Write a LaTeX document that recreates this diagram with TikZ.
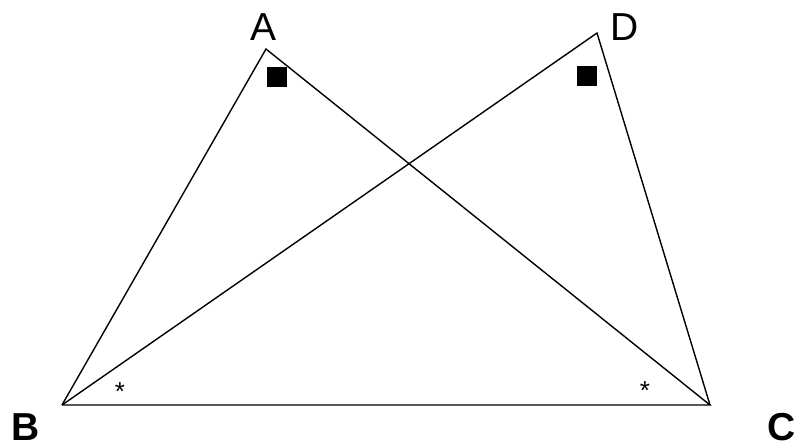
\documentclass[tikz,border=0pt]{standalone}
\usepackage{fontspec}
\setmainfont{Liberation Sans}
\begin{document}
\begin{tikzpicture}[x=1pt,y=-1pt,
  edge/.style={line width=1.4pt, line join=miter},
  lbl/.style={font=\fontsize{39}{39}\selectfont, inner sep=0pt, anchor=center},
  blbl/.style={font=\fontsize{39}{39}\selectfont\bfseries, inner sep=0pt, anchor=center},
  sqmark/.style={fill=black, minimum size=20pt, inner sep=0pt},
  star/.style={font=\fontsize{26}{26}\selectfont, inner sep=0pt}]
\useasboundingbox (0,0) rectangle (798,447);
\coordinate (A) at (266,49);
\coordinate (D) at (597,33);
\coordinate (B) at (62,405);
\coordinate (C) at (710,405);
\draw[edge] (B) -- (A) -- (C) -- (B);
\draw[edge] (B) -- (D) -- (C);
\node[lbl] (la) at (264,27) {A};
\node[lbl] (ld) at (625,27) {D};
\node[blbl] (lb) at (26,427) {B};
\node[blbl] (lc) at (782,427) {C};
\node[sqmark] (sa) at (277,77) {};
\node[sqmark] (sd) at (587,76) {};
\node[star] (st1) at (120,392) {*};
\node[star] (st2) at (645,391) {*};
\end{tikzpicture}
\end{document}
